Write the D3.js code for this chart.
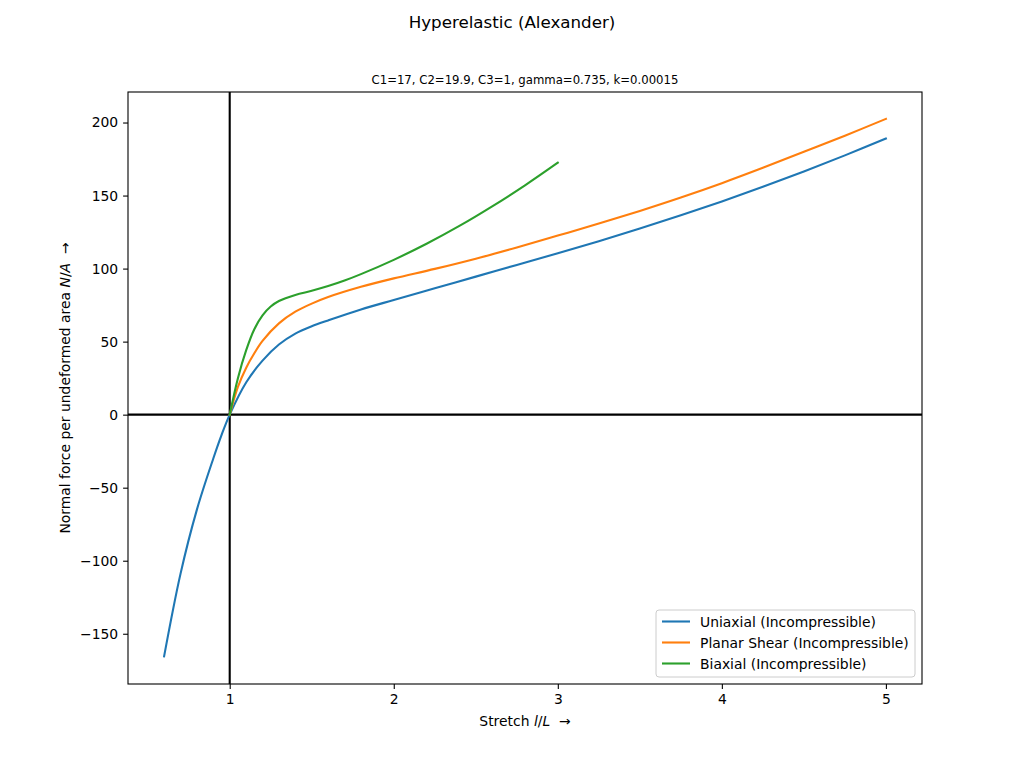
<!DOCTYPE html>
<html>
<head>
    <meta charset="utf-8">
    <script src="https://cdn.jsdelivr.net/npm/d3@7"></script>
    <style>
        body { margin: 0; background: white; }
        svg { font-family: "DejaVu Sans", sans-serif; }
    </style>
</head>
<body>
    <div id="chart"></div>
    <script>
        // values
        var stretchUni = [0.6, 0.7, 0.8, 0.9, 0.95, 1.0, 1.1, 1.2, 1.3, 1.4, 1.5, 1.6, 1.8, 2.0, 2.25, 2.5, 2.75, 3.0, 3.25, 3.5, 3.75, 4.0, 4.25, 4.5, 4.75, 5.0];
        var uniaxial = [-165.5, -109, -65, -30, -14, 0, 22, 37, 48, 55.5, 60.5, 64.5, 72, 78.5, 86.5, 94.5, 102.5, 110.5, 118.8, 127.5, 136.5, 146, 156, 166.5, 177.5, 189];

        var stretchPlanar = [1.0, 1.05, 1.1, 1.15, 1.2, 1.3, 1.4, 1.5, 1.6, 1.8, 2.0, 2.25, 2.5, 2.75, 3.0, 3.25, 3.5, 3.75, 4.0, 4.25, 4.5, 4.75, 5.0];
        var planar = [0, 19, 32, 42, 50.5, 62.5, 70.5, 76, 80.5, 87.5, 93.3, 99.8, 106.8, 114.5, 122.6, 130.8, 139.5, 148.7, 158.5, 169, 180, 191, 202.5];

        var stretchBiax = [1.0, 1.05, 1.1, 1.15, 1.2, 1.25, 1.3, 1.4, 1.5, 1.6, 1.7, 1.8, 2.0, 2.2, 2.4, 2.6, 2.8, 3.0];
        var biaxial = [0, 25, 44, 58.5, 68, 74, 77.8, 82, 84.8, 88, 91.8, 96.2, 106, 117, 129.2, 142.6, 157, 172.5];

        var seriesNames = ["Uniaxial (Incompressible)", "Planar Shear (Incompressible)", "Biaxial (Incompressible)"];
        var seriesColors = ["#1f77b4", "#ff7f0e", "#2ca02c"];
        var xTicks = [1, 2, 3, 4, 5];
        var yTicks = [-150, -100, -50, 0, 50, 100, 150, 200];

        var W = 1024, H = 768;
        var margin = { top: 92, right: 102, bottom: 84, left: 128 };
        var width = W - margin.left - margin.right;
        var height = H - margin.top - margin.bottom;

        var svg = d3.select("#chart").append("svg")
            .attr("width", W)
            .attr("height", H);

        var g = svg.append("g")
            .attr("transform", "translate(" + margin.left + "," + margin.top + ")");

        // matplotlib-like 5% margins around the data
        var x = d3.scaleLinear().domain([0.38, 5.22]).range([0, width]);
        var y = d3.scaleLinear().domain([-184.4, 220.9]).range([height, 0]);

        // axes
        var xAxis = g.append("g")
            .attr("transform", "translate(0," + height + ")")
            .call(d3.axisBottom(x).tickValues(xTicks).tickSize(4.9).tickPadding(4.9).tickFormat(d3.format("d")));
        var yAxis = g.append("g")
            .call(d3.axisLeft(y).tickValues(yTicks).tickSize(4.9).tickPadding(4.9)
                .tickFormat(function (d) { return d < 0 ? "\u2212" + Math.abs(d) : d; }));
        [xAxis, yAxis].forEach(function (a) {
            a.select(".domain").remove();
            a.selectAll("text").attr("font-size", "13.9px").attr("fill", "black")
                .attr("font-family", "DejaVu Sans, sans-serif");
            a.selectAll("line").attr("stroke", "black").attr("stroke-width", 1.1);
        });

        g.append("defs").append("clipPath").attr("id", "clip")
            .append("rect").attr("width", width).attr("height", height);

        var plot = g.append("g").attr("clip-path", "url(#clip)");

        // reference lines at y=0 and x=1
        plot.append("line")
            .attr("x1", 0).attr("x2", width)
            .attr("y1", y(0)).attr("y2", y(0))
            .attr("stroke", "black").attr("stroke-width", 2.1);
        plot.append("line")
            .attr("x1", x(1)).attr("x2", x(1))
            .attr("y1", 0).attr("y2", height)
            .attr("stroke", "black").attr("stroke-width", 2.1);

        var line = d3.line()
            .curve(d3.curveCatmullRom.alpha(0.5))
            .x(function (d) { return x(d[0]); })
            .y(function (d) { return y(d[1]); });

        var series = [
            d3.zip(stretchUni, uniaxial),
            d3.zip(stretchPlanar, planar),
            d3.zip(stretchBiax, biaxial)
        ];

        series.forEach(function (s, i) {
            plot.append("path")
                .datum(s)
                .attr("d", line)
                .attr("fill", "none")
                .attr("stroke", seriesColors[i])
                .attr("stroke-width", 2.1)
                .attr("stroke-linejoin", "round")
                .attr("stroke-linecap", "square");
        });

        // frame
        g.append("rect")
            .attr("width", width).attr("height", height)
            .attr("fill", "none").attr("stroke", "black").attr("stroke-width", 1.1);

        // titles
        svg.append("text")
            .attr("x", W / 2).attr("y", 28)
            .attr("text-anchor", "middle")
            .attr("font-size", "16.7px")
            .text("Hyperelastic (Alexander)");
        svg.append("text")
            .attr("x", margin.left + width / 2).attr("y", 84)
            .attr("text-anchor", "middle")
            .attr("font-size", "11.7px")
            .text("C1=17, C2=19.9, C3=1, gamma=0.735, k=0.00015");

        // x label
        var xl = svg.append("text")
            .attr("x", margin.left + width / 2).attr("y", 726)
            .attr("text-anchor", "middle")
            .attr("font-size", "13.9px")
            .attr("xml:space", "preserve");
        xl.append("tspan").text("Stretch ");
        xl.append("tspan").attr("font-style", "italic").text("l");
        xl.append("tspan").text("/");
        xl.append("tspan").attr("font-style", "italic").text("L");
        xl.append("tspan").text("  \u2192");

        // y label
        var yl = svg.append("text")
            .attr("transform", "translate(70," + (margin.top + height / 2) + ") rotate(-90)")
            .attr("text-anchor", "middle")
            .attr("font-size", "13.9px")
            .attr("xml:space", "preserve");
        yl.append("tspan").text("Normal force per undeformed area ");
        yl.append("tspan").attr("font-style", "italic").text("N");
        yl.append("tspan").text("/");
        yl.append("tspan").attr("font-style", "italic").text("A");
        yl.append("tspan").text("  \u2192");

        // legend
        var lg = svg.append("g").attr("transform", "translate(656,610)");
        lg.append("rect")
            .attr("width", 259).attr("height", 67)
            .attr("rx", 3)
            .attr("fill", "white").attr("fill-opacity", 0.8)
            .attr("stroke", "#cccccc").attr("stroke-width", 1);
        seriesNames.forEach(function (name, i) {
            var row = lg.append("g").attr("transform", "translate(0," + (11.5 + i * 21) + ")");
            row.append("line")
                .attr("x1", 6).attr("x2", 34)
                .attr("stroke", seriesColors[i]).attr("stroke-width", 2.1);
            row.append("text")
                .attr("x", 44).attr("y", 5)
                .attr("font-size", "13.9px")
                .text(name);
        });
    </script>
</body>
</html>
